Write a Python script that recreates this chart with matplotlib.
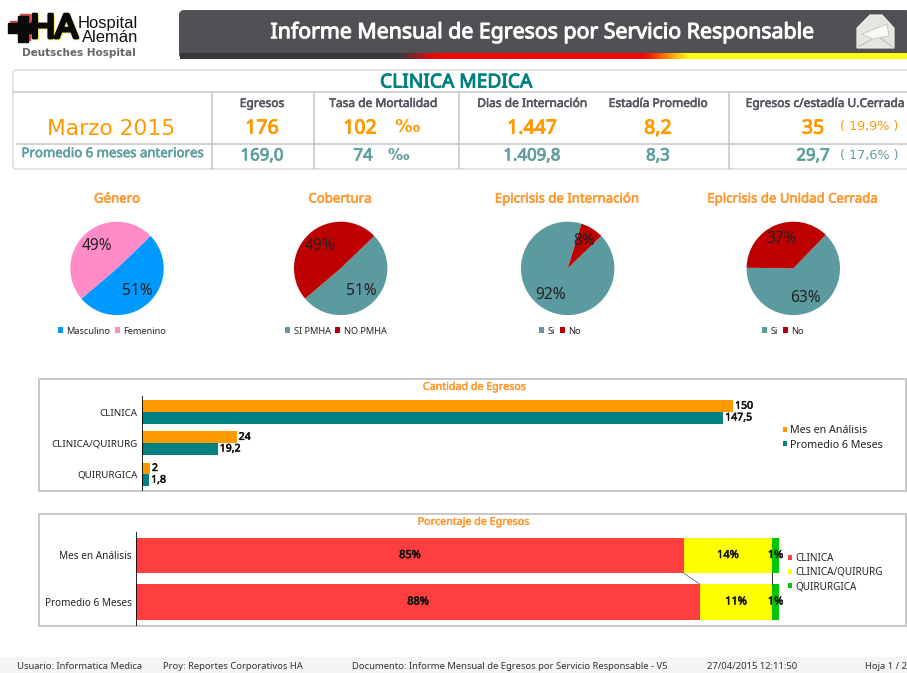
import matplotlib
matplotlib.use("Agg")
import matplotlib.pyplot as plt
import matplotlib.patheffects as pe
import numpy as np
from matplotlib.patches import FancyBboxPatch, Rectangle, Polygon
from matplotlib.colors import LinearSegmentedColormap

W, H = 907, 673

# ---- data ----
report_title = "Informe Mensual de Egresos por Servicio Responsable"
service = "CLINICA MEDICA"
period = "Marzo 2015"
avg_label = "Promedio 6 meses anteriores"
kpi_headers = ["Egresos", "Tasa de Mortalidad", "Dias de Internación", "Estadía Promedio", "Egresos c/estadía U.Cerrada"]
kpi_current = ["176", "102", "1.447", "8,2", "35"]
kpi_average = ["169,0", "74", "1.409,8", "8,3", "29,7"]
pct_current = "( 19,9% )"
pct_average = "( 17,6% )"

pie_titles = ["Género", "Cobertura", "Epicrisis de Internación", "Epicrisis de Unidad Cerrada"]
pie_labels = [["Masculino", "Femenino"], ["SI PMHA", "NO PMHA"], ["Si", "No"], ["Si", "No"]]
pie_values = [[51, 49], [51, 49], [92, 8], [63, 37]]

bar_cats = ["CLINICA", "CLINICA/QUIRURG", "QUIRURGICA"]
bar_mes = [150, 24, 2]
bar_prom = [147.5, 19.2, 1.8]
bar_series = ["Mes en Análisis", "Promedio 6 Meses"]

stack_cats = ["Mes en Análisis", "Promedio 6 Meses"]
stack_names = ["CLINICA", "CLINICA/QUIRURG", "QUIRURGICA"]
stack_clinica = [85.2, 87.7]
stack_quirurg = [13.7, 11.2]
stack_quirurgica = [1.1, 1.1]

footer = ["Usuario: Informatica Medica", "Proy: Reportes Corporativos HA",
          "Documento: Informe Mensual de Egresos por Servicio Responsable - V5",
          "27/04/2015 12:11:50", "Hoja 1 / 2"]

# ---- styles ----
ORANGE = "#FF9900"
TITLE_OR = "#FF9A33"
TEAL = "#008080"
STEEL = "#5F9EA0"
PIE_TEAL = "#5B9A9F"
DARKRED = "#BD0000"
NARROW = "Noto Sans"
px = lambda p: p * 0.72

fig = plt.figure(figsize=(W / 100, H / 100), dpi=100, facecolor="white")
bg = fig.add_axes([0, 0, 1, 1], zorder=0)
bg.set_xlim(0, W); bg.set_ylim(H, 0); bg.axis("off")


def T(x, y, s, size, color="#222222", weight="normal", ha="center", family=NARROW, stroke=None, **kw):
    """Text in pixel coordinates; a stroke thickens families without a bold face."""
    t = bg.text(x, y + size * 0.08, s, fontsize=px(size), color=color, fontweight=weight, ha=ha, va="center",
                family=family, **kw)
    if stroke:
        t.set_path_effects([pe.withStroke(linewidth=stroke, foreground=color)])
    return t


def TB(x, y, s, size, color, **kw):
    return T(x, y, s, size, color, stroke=max(0.35, size * 0.035), **kw)


def axes_px(x0, y0, x1, y1, **kw):
    return fig.add_axes([x0 / W, 1 - y1 / H, (x1 - x0) / W, (y1 - y0) / H], zorder=2, **kw)


def L(x0, y0, x1, y1, color="#C4C4C4", lw=1.5, **kw):
    bg.plot([x0, x1], [y0, y1], color=color, lw=lw * 0.72, solid_capstyle="butt", **kw)


# ---- logo ----
for (off, col) in [((2, -2), "#D84848"), ((0, 0), "#0A0A0A")]:
    bg.add_patch(Rectangle((8 + off[0], 23 + off[1]), 28, 10, color=col, zorder=2))
    bg.add_patch(Rectangle((18 + off[0], 15.5 + off[1]), 10, 26, color=col, zorder=2))
T(55, 27.5, "HA", 34, "#F3EE70", family="Liberation Sans", stroke=2.4, zorder=2.5)
T(54, 26.5, "HA", 34, "#0A0A0A", family="Liberation Sans", stroke=2.4, zorder=3)
T(138, 22.5, "Hospital", 16.5, "#111111", ha="right", family="Liberation Sans")
T(138, 36.5, "Alemán", 16.5, "#111111", ha="right", family="Liberation Sans")
T(78.5, 52, "Deutsches Hospital", 10.4, "#666666", "bold", family="DejaVu Sans")

# ---- header ----
bg.add_patch(FancyBboxPatch((181, 12), 727, 45, boxstyle="round,pad=0,rounding_size=3",
                            mutation_aspect=1, fc="#505055", ec="#505055", lw=4 * .72))
cm = LinearSegmentedColormap.from_list("hdr", [(0, "#38383C"), (0.30, "#38383C"), (0.355, "#FF0000"),
                                               (0.64, "#FF0000"), (0.70, "#FFFF00"), (1, "#FFFF00")])
bg.imshow(np.linspace(0, 1, 700)[None, :], cmap=cm, extent=(180, W, 59, 53.5), aspect="auto", zorder=2)
bg.set_xlim(0, W); bg.set_ylim(H, 0)
TB(542, 31, report_title, 21.3, "white")
# envelope icon
bg.add_patch(Polygon([(857, 28), (870, 15), (882, 15), (894, 28), (894, 48), (857, 48)], closed=True,
                     fc="#E4E6E0", ec="#F2F2F0", lw=.8, zorder=2))
bg.add_patch(Polygon([(862, 34), (887, 24), (889, 36), (872, 39)], closed=True, fc="#F8F8F6", ec="#B8BAB4", lw=.5, zorder=3))
L(858, 47, 872, 39, "#B8BAB4", 1, zorder=3)
L(893, 47, 880, 38, "#B8BAB4", 1, zorder=3)

# ---- KPI table ----
bg.add_patch(FancyBboxPatch((13, 70), 900, 99, boxstyle="round,pad=0,rounding_size=3", fc="white",
                            ec="#E2E2E2", lw=2 * .72))
L(13, 92, W, 92)
L(16, 144, W, 144)
for x in (212, 314, 459, 729):
    L(x, 92, x, 169)
TB(456, 81, service, 19.2, TEAL)
T(111.5, 127, period, 21.8, ORANGE, family="DejaVu Sans")
TB(112.5, 152.5, avg_label, 13.2, STEEL)
col_x = [262, 360, 532, 658, 813]
avg_x = [262, 363, 532, 658, 813]
head_x = [262, 383, 532, 658, 825]
for x, s in zip(head_x, kpi_headers):
    TB(x, 102.5, s, 12, "#555560")
for x, s in zip(col_x, kpi_current):
    TB(x, 127, s, 19.5, ORANGE)
for x, s in zip(avg_x, kpi_average):
    TB(x, 155, s, 16.8, STEEL)
T(407, 126, "‰", 17.5, ORANGE, "bold", family="DejaVu Sans")
T(398, 154.5, "‰", 15, STEEL, "bold", family="DejaVu Sans")
T(869, 125, pct_current, 12.8, ORANGE, family="DejaVu Sans")
T(869, 154, pct_average, 12.8, STEEL, family="DejaVu Sans")

# ---- pies ----
pie_colors = [["#0099FF", "#FF8CC6"], [PIE_TEAL, DARKRED], [PIE_TEAL, DARKRED], [PIE_TEAL, DARKRED]]
pie_cx = [117, 340.7, 567.7, 793.3]
pie_start = [44, 44, 44, 46]
pie_pctd = [0.65, 0.65, 0.68, 0.68]
leg_cx = [112, 336, 560, 783]
title_cx = [117, 340, 567, 792.5]
R = 46.7
for i in range(4):
    cx, cy = pie_cx[i], 268.4
    ax = axes_px(cx - R, cy - R, cx + R, cy + R)
    wedges, _, auts = ax.pie(pie_values[i], colors=pie_colors[i], startangle=pie_start[i], counterclock=False,
                             radius=1, autopct="%.0f%%", pctdistance=pie_pctd[i],
                             textprops=dict(fontsize=px(15.5), color="#222222", family=NARROW))
    ax.set_xlim(-1, 1); ax.set_ylim(-1, 1)
    ax.set_aspect("equal")
    TB(title_cx[i], 198, pie_titles[i], 13.2, TITLE_OR)
    bg.legend(wedges, pie_labels[i], ncol=2, loc="center", frameon=False,
              bbox_to_anchor=(leg_cx[i], 331), bbox_transform=bg.transData,
              prop=dict(family=NARROW, size=px(9.2)), handlelength=0.55, handleheight=0.55,
              handletextpad=0.4, columnspacing=0.5, labelcolor="#222222", borderpad=0, borderaxespad=0)
    bg.add_artist(bg.get_legend())

# ---- bar panels ----
for y0, y1 in ((379, 491), (514, 626)):
    bg.add_patch(Rectangle((39, y0), 866.5, y1 - y0, fc="white", ec="#C8C8C8", lw=2 * .72))

TB(474.5, 386.5, "Cantidad de Egresos", 10.7, TITLE_OR)
TB(473.5, 521.5, "Porcentaje de Egresos", 10.7, TITLE_OR)

label_fx = [pe.withStroke(linewidth=0.4, foreground="#111111")]

# horizontal grouped bars
ax1 = axes_px(142, 396, 142 + 3.94 * 160, 490.5)
ax1.patch.set_alpha(0)
ypos = np.arange(len(bar_cats))
bh = 0.375
b1 = ax1.barh(ypos - bh / 2, bar_mes, bh, color=ORANGE, label=bar_series[0])
b2 = ax1.barh(ypos + bh / 2, bar_prom, bh, color=TEAL, label=bar_series[1])
ax1.set_xlim(0, 160)
ax1.set_ylim(2.52, -0.515)
fmt = lambda v: f"{v:g}".replace(".", ",")
for bars in (b1, b2):
    ax1.bar_label(bars, labels=[fmt(b.get_width()) for b in bars], padding=1.5,
                  fontsize=px(10.5), color="#111111", family=NARROW, path_effects=label_fx)
ax1.set_yticks(ypos, bar_cats, fontsize=px(9.8), family=NARROW, color="#222222")
ax1.tick_params(axis="y", length=0, pad=3)
ax1.xaxis.set_visible(False)
for s in ("top", "right", "bottom"):
    ax1.spines[s].set_visible(False)
ax1.spines["left"].set_linewidth(0.6)
bg.legend(*ax1.get_legend_handles_labels(), loc="center left", frameon=False,
          bbox_to_anchor=(783, 438), bbox_transform=bg.transData,
          prop=dict(family=NARROW, size=px(10.7)), handlelength=0.35, handleheight=0.4, handletextpad=0.3,
          labelspacing=0.3, borderpad=0, borderaxespad=0, labelcolor="#222222")
bg.add_artist(bg.get_legend())

# 100 % stacked bars
ax2 = axes_px(136, 532, 779, 625)
ax2.patch.set_alpha(0)
ys = np.arange(len(stack_cats))
left = np.zeros(2)
tops = []
stack_vals = [stack_clinica, stack_quirurg, stack_quirurgica]
stack_cols = ["#FF3F3F", "#FFFF00", "#00C800"]
for vals, col, name in zip(stack_vals, stack_cols, stack_names):
    bars = ax2.barh(ys, vals, 0.763, left=left, color=col, label=name)
    ax2.bar_label(bars, labels=[f"{v:.0f}%" for v in vals], label_type="center",
                  fontsize=px(11), color="#111111", family=NARROW, path_effects=label_fx)
    left = left + np.array(vals)
    tops.append(left.copy())
# series connector lines
for top, col in zip(tops, ("#808080", "#303030", "#303030")):
    ax2.plot(top, [0.3815, 1 - 0.3815], color=col, lw=0.7, zorder=1)
ax2.set_xlim(0, 100)
ax2.set_ylim(1.495, -0.505)
ax2.set_yticks(ys, stack_cats, fontsize=px(10), family=NARROW, color="#222222")
ax2.tick_params(axis="y", length=0, pad=3)
ax2.xaxis.set_visible(False)
for s in ("top", "right", "bottom"):
    ax2.spines[s].set_visible(False)
ax2.spines["left"].set_linewidth(0.6)
bg.legend(*ax2.get_legend_handles_labels(), loc="center left", frameon=False,
          bbox_to_anchor=(788, 572.5), bbox_transform=bg.transData,
          prop=dict(family=NARROW, size=px(9.9)), handlelength=0.36, handleheight=0.36, handletextpad=0.35,
          labelspacing=0.32, borderpad=0, borderaxespad=0, labelcolor="#222222")

# ---- footer ----
bg.add_patch(Rectangle((0, 657), W, 16, fc="#F5F5F5", ec="none"))
for x, s in zip((17, 163, 352, 707, 865), footer):
    T(x, 665.5, s, 9.45, "#333333", ha="left", clip_on=True)

fig.savefig("out.png", dpi=100)
